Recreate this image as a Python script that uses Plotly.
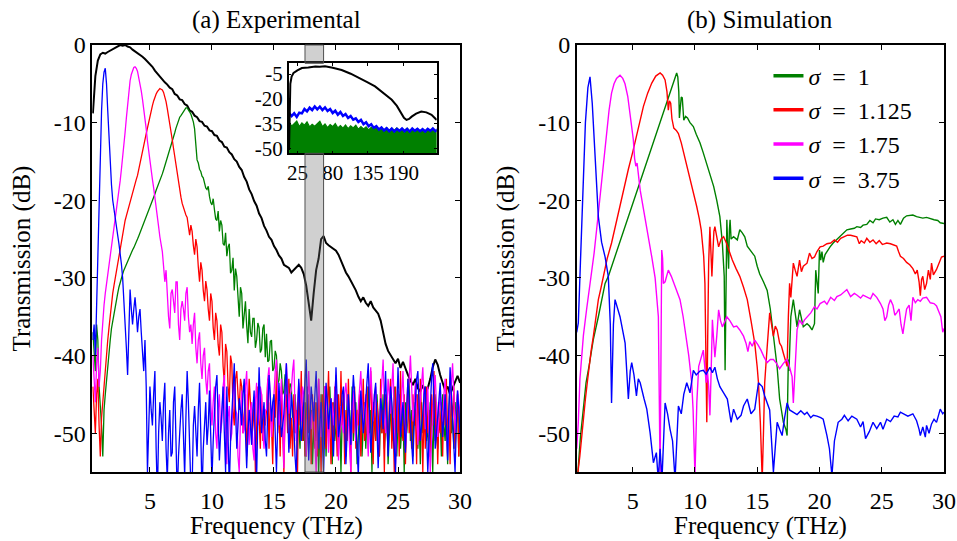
import plotly.graph_objects as go

FONT = "Liberation Serif, Times New Roman, serif"

# ---------------- (a) Experimental ----------------
# black (broadband) trace: sampled every 0.2 THz from 0.4 THz
EXP_FREQ_BLACK = [round(0.4 + 0.2 * i, 1) for i in range(150)]
EXP_BLACK = [
    -8.8, -4.0, -2.0, -1.2, -1.0, -1.1, -0.9, -0.7, -0.5, -0.4,
    -0.2, 0.0, -0.1, 0.0, -0.2, -0.3, -0.6, -0.8, -1.0, -1.2,
    -1.5, -1.8, -2.1, -2.4, -2.8, -3.3, -3.7, -4.1, -4.4, -4.8,
    -5.1, -5.5, -5.7, -6.3, -6.5, -7.0, -7.1, -7.6, -7.8, -8.4,
    -8.6, -9.1, -9.3, -9.8, -9.9, -10.4, -10.5, -11.0, -11.1, -11.6,
    -11.7, -12.3, -12.5, -13.1, -13.2, -13.8, -14.1, -14.7, -15.0, -15.7,
    -16.1, -17.0, -17.6, -18.6, -19.2, -20.1, -20.7, -21.7, -22.3, -23.3,
    -23.9, -24.7, -25.1, -25.9, -26.4, -27.1, -27.5, -28.3, -28.5, -28.7,
    -29.3, -29.0, -28.6, -28.3, -28.7, -29.5, -31.0, -33.5, -35.5, -32.0,
    -29.0, -27.5, -25.0, -24.6, -25.5, -25.8, -26.0, -26.3, -26.5, -27.0,
    -27.8, -28.5, -29.3, -29.8, -30.4, -30.8, -31.6, -32.4, -33.0, -32.5,
    -33.2, -33.6, -33.0, -33.8, -34.2, -34.6, -35.5, -37.0, -38.5, -39.4,
    -40.0, -40.6, -41.0, -40.4, -41.6, -40.8, -41.8, -42.5, -43.2, -43.8,
    -43.0, -44.2, -44.6, -43.8, -44.8, -44.2, -43.0, -41.5, -40.5, -41.2,
    -42.5, -43.6, -44.5, -44.0, -45.0, -44.2, -43.4, -42.6, -43.5, -43.0,
]

# filtered traces: sampled every 0.1 THz from 0.4 THz
EXP_FREQ = [round(0.4 + 0.1 * i, 1) for i in range(300)]

EXP_GREEN = [
    -37, -39, -42, -36, -38, -44, -46, -49, -53, -47, -45, -43, -41, -39.5, -38, -36.5, -35.5, -34.5, -33.5, -33,
    -32, -31.2, -30.5, -30, -29.5, -29, -28.6, -28.3, -28, -27.6, -27.2, -26.8, -26.4, -26.1, -25.8, -25.4, -25, -24.6, -24.2, -23.8,
    -23.4, -22.9, -22.5, -22.1, -21.7, -21.2, -20.8, -20.4, -20, -19.6, -19.2, -18.7, -18.3, -18, -17.6, -17.1, -16.6, -16.1, -15.6, -15.1,
    -14.6, -14.1, -13.5, -13, -12.4, -11.8, -11.3, -10.7, -10.2, -9.7, -9.3, -9.1, -8.8, -8.5, -8.3, -8.1, -8.1, -8.3, -8.6, -8.9,
    -9.3, -9.9, -10.8, -13, -14.8, -15.2, -16, -16.3, -16.9, -17.1, -17.8, -18.4, -18.6, -18.2, -19.5, -20.3, -20.6, -19.8, -21.2, -22.4,
    -22.6, -21.4, -24, -22.6, -23.2, -25.6, -25.8, -24.2, -27.2, -26, -25.6, -29.4, -29, -27.4, -31.6, -28.8, -29.8, -33.4, -35, -31.2,
    -32, -36.5, -34.4, -33, -36.2, -38.4, -34, -37, -37.6, -35.2, -35.2, -39, -38, -35.8, -36.4, -39.6, -39.2, -36.5, -36, -40.2,
    -37.2, -40.8, -40.6, -38.2, -38, -42, -41.6, -39.4, -40, -43.6, -43.2, -41, -42, -45, -44.6, -42.4, -43, -46.6, -46.2, -43.6,
    -44, -48, -47, -45, -50, -46, -49, -52, -45, -47, -51, -46, -53, -48, -45, -50, -47, -54, -49, -46,
    -51, -47, -55, -48, -45, -52, -49, -46, -53, -47, -50, -44, -48, -54, -46, -51, -49, -45, -52, -47,
    -55, -48, -46, -50, -53, -45, -49, -47, -52, -44, -51, -48, -46, -54, -50, -47, -45, -53, -49, -46,
    -52, -48, -44, -50, -47, -55, -46, -49, -51, -45, -48, -53, -47, -50, -45, -52, -48, -46, -54, -49,
    -46, -51, -47, -44, -50, -53, -48, -45, -52, -49, -47, -55, -46, -50, -48, -43, -51, -47, -53, -46,
    -49, -45, -52, -48, -54, -46, -50, -47, -44, -51, -49, -53, -46, -48, -55, -47, -45, -50, -52, -46,
    -48, -53, -45, -49, -51, -46, -54, -47, -44, -50, -48, -52, -46, -49, -45, -53, -47, -50, -46, -48,
]

EXP_RED = [
    -44, -47, -50, -45, -43, -49, -53, -48, -46, -43, -41, -39.5, -38, -36.4, -34.8, -33.4, -32, -31, -30, -29,
    -28, -27, -26, -25, -24.2, -23.4, -22.6, -22, -21.4, -20.6, -20, -19.5, -19, -18.4, -17.8, -17.3, -16.8, -16.1, -15.4, -14.6,
    -13.8, -13, -12.2, -11.4, -10.6, -9.9, -9.2, -8.5, -7.8, -7.2, -6.6, -6.3, -6.0, -5.8, -5.6, -5.7, -5.8, -6.1, -6.6, -7.3,
    -8.2, -9.1, -10.1, -11.2, -12.2, -13.3, -14.4, -15.4, -16.5, -17.8, -19, -19.6, -20.4, -21, -21.5, -21.9, -22.2, -23.4, -24.5, -23.2,
    -24, -25.8, -27, -25, -26, -28.6, -30.5, -28, -29, -31.6, -33, -30.4, -31.5, -34, -35.5, -32, -33, -36.4, -38, -34.5,
    -35.5, -38.6, -40, -36, -37, -41.4, -43.5, -38.5, -39.5, -44, -46, -40, -41, -47, -49, -43, -42, -45, -47, -43,
    -44, -50, -47, -45, -53, -48, -43, -46, -51, -49, -46, -55, -50, -44, -48, -52, -45, -51, -47, -49,
    -47, -43, -52, -46, -49, -54, -45, -48, -42, -50, -46, -53, -44, -49, -55, -47, -45, -50, -43, -52,
    -48, -53, -45, -50, -47, -55, -44, -49, -42, -51, -46, -53, -48, -44, -50, -47, -54, -45, -49, -52,
    -46, -53, -43, -48, -55, -45, -50, -44, -52, -47, -42, -49, -54, -46, -51, -44, -48, -53, -45, -50,
    -42, -49, -45, -54, -47, -51, -43, -48, -55, -46, -50, -44, -52, -47, -49, -45, -53, -48, -43, -51,
    -50, -44, -52, -47, -42, -49, -54, -45, -51, -46, -48, -53, -43, -50, -47, -55, -45, -49, -52, -46,
    -43, -52, -48, -55, -44, -50, -46, -53, -42, -49, -51, -45, -54, -47, -43, -50, -48, -52, -45, -49,
    -47, -54, -45, -51, -43, -48, -55, -46, -52, -44, -50, -47, -53, -45, -49, -42, -51, -46, -54, -48,
    -50, -46, -53, -45, -49, -43, -51, -47, -54, -46, -48, -44, -52, -49, -45, -53, -47, -50, -43, -48,
]

EXP_MAGENTA = [
    -40, -43, -46, -41, -39, -44, -42, -38, -35, -33.5, -32, -30.8, -29.5, -28.2, -27, -26, -25, -24, -22.8, -21.5,
    -20, -18.8, -17.5, -16, -14.6, -13, -11.2, -9.4, -7.6, -6, -4.6, -3.8, -3.2, -2.9, -2.8, -3, -3.4, -4.1, -4.9, -5.9,
    -7, -8.1, -9.2, -10.8, -12.4, -13.8, -15.2, -16.2, -17.3, -18.4, -19.5, -20.8, -22, -23.4, -24.7, -25.6, -26.6, -28.5, -30.5, -29,
    -33, -35, -36.5, -32, -31.5, -33, -34.5, -30.5, -30.5, -36, -38, -34, -33, -34, -35.5, -32, -31.2, -35, -37, -36,
    -38.5, -36, -34.5, -39, -41, -38, -37, -41, -43, -40, -39, -43, -45, -42, -41, -46, -49, -46, -44, -50,
    -52, -47, -45, -50, -48.5, -44, -42.5, -49, -54, -48, -46.5, -51, -50, -45, -43, -47, -47.5, -53, -55, -48,
    -44.5, -50, -49.5, -44, -42, -48, -51.5, -47, -46, -52, -53.5, -46, -43.5, -49, -48, -44, -45, -50, -52, -47,
    -47, -43, -41.5, -46, -50.5, -48, -44, -42, -40.5, -45, -49, -47, -43, -48, -54.5, -46, -41, -44, -47.5, -45,
    -44.5, -42, -40.5, -47, -51, -46, -43.5, -45, -48.5, -44, -45, -50, -53, -47, -42, -46, -49.5, -47, -46, -51,
    -55, -48, -43, -46, -50.5, -49, -47, -44, -44, -49, -52.5, -47, -45.5, -47, -49, -45, -42.5, -48, -53.5, -50,
    -46.5, -49, -50, -45, -43.5, -46, -48, -52, -55, -47, -44.5, -48, -51, -49, -47, -44, -42, -46, -49.5, -47,
    -45, -49, -53, -46, -41.5, -45, -48.5, -46, -44, -48, -51.5, -49, -46.5, -43, -40.5, -46, -50, -47, -43, -45,
    -47.5, -44, -41, -48, -54, -49, -44.5, -46, -49, -45, -42, -47, -52, -49, -45.5, -42, -40, -44, -48.5, -46,
    -43.5, -47, -51.5, -48, -46, -43, -41.5, -46, -49.5, -47, -44, -50, -55, -51, -47, -44, -42.5, -46, -50.5, -48,
    -45, -47, -48.5, -45, -43, -48, -53, -49, -46.5, -43, -41, -45, -50, -47, -44.5, -46, -47.5, -50, -52, -49,
]

EXP_BLUE = [
    -38, -36, -40, -33, -26, -19, -13, -8.5, -5, -3.5, -3, -5, -8.5, -12, -15.5, -18, -20, -21.3, -22.5, -23.5,
    -24.5, -25.6, -26.8, -28.2, -30, -32.5, -35, -39, -42.5, -36, -31.5, -34, -36, -34, -32.5, -34.5, -37, -35, -34, -37,
    -40, -42, -38, -44, -55, -50, -44, -47, -49, -45, -42, -52, -58, -50, -46, -48, -51, -46, -43.5, -52,
    -56, -50, -47, -53, -52.5, -46, -44, -51, -58, -53, -49.5, -47, -45, -52, -55.5, -48, -42, -46, -50, -57,
    -57, -49, -46.5, -51, -53, -47, -43.5, -50, -58, -52, -48, -46, -51.5, -49, -44.5, -50, -56, -51, -47, -44,
    -42.5, -48, -53.5, -50, -46, -44, -50, -55, -44, -49, -57, -51, -47.5, -44, -41, -47, -52, -49, -45.5, -47,
    -49, -45, -43, -50, -54.5, -50, -47, -49, -51.5, -47, -44.5, -51, -56, -48, -41.5, -46, -50, -48, -46, -51,
    -53, -47, -42.5, -45, -48.5, -46, -45, -50, -55, -49, -43.5, -47, -50.5, -49, -47.5, -44, -41, -47, -52.5, -49,
    -45, -47, -49, -53, -55.5, -48, -43, -47, -51, -49, -46.5, -43, -40.5, -47, -53.5, -49, -44, -46, -48.5, -45,
    -42, -47, -52, -49, -46, -51, -55, -49, -43.5, -46, -49.5, -47, -45.5, -50, -53, -47, -41.5, -46, -50.5, -49,
    -47.5, -45, -44, -49, -54, -50, -45, -48, -51.5, -46, -42.5, -45, -48, -52, -55.5, -49, -44.5, -47, -50, -48,
    -46, -43, -41, -47, -52.5, -50, -47, -45, -43.5, -49, -54.5, -50, -45.5, -47, -49.5, -46, -42, -48, -53, -48,
    -44, -46, -48.5, -52, -55, -47, -41.5, -46, -50.5, -48, -46, -49, -52.5, -47, -43, -46, -49, -52, -54, -49,
    -45.5, -43, -42, -47, -51, -49, -47.5, -45, -44, -50, -55, -51, -46.5, -43, -41, -47, -52, -50, -48, -46,
    -43.5, -47, -50.5, -48, -45, -49, -53.5, -47, -41.5, -45, -48, -51, -55, -49, -44.5, -47, -50, -48, -46.5, -48,
]

# ---------------- inset (wide band) ----------------
INSET_F_BLACK = [12, 13, 14, 16, 19, 25, 32, 42, 53, 60, 68, 80, 94, 108, 120, 133, 146, 159, 172, 180,
                 187, 191, 195, 199, 203, 210, 218, 226, 234, 242]
INSET_DB_BLACK = [-51, -30, -11, -6.5, -4.4, -2.8, -1.4, -1.0, -0.4, -0.6, -0.3, -1.2, -2.6, -4.8, -7.4,
                  -9.8, -12.5, -16.3, -20.6, -24.3, -28.7, -31.5, -32.8, -32.2, -30.8, -29.0, -27.7,
                  -28.2, -29.7, -32.8]
INSET_F = [12 + 4 * i for i in range(59)]
INSET_DB_BLUE = [-28.5, -30.5, -28.8, -31, -28.4, -28.8, -26.2, -27.6, -25.4, -26.8, -24.6, -26.4, -24.8,
                 -26.8, -25.2, -27.4, -26.2, -28.6, -27.2, -29.6, -28, -30.4, -29.2, -31.6, -30.4, -32.6,
                 -31.8, -34, -32.8, -35.4, -34.2, -36.6, -35.4, -37.6, -36.6, -38.6, -37.4, -39.2, -37.8,
                 -39.6, -38, -39.8, -38.2, -39.4, -38, -39.6, -38.2, -39.8, -38, -39.4, -38.2, -39.6, -38.4,
                 -39.8, -38.2, -39.4, -38, -39.6, -38.4]
INSET_DB_GREEN = [-34, -36.5, -35, -33.5, -36.8, -34.6, -36, -34, -37, -35.4, -36.6, -34.8, -33.6, -36.8,
                  -35.2, -37.4, -35.6, -36.8, -35, -37.6, -36.2, -37.8, -35.8, -38, -36.4, -37.6, -36, -38.4,
                  -36.8, -38.2, -37, -38.8, -37.2, -38.4, -36.8, -39, -37.6, -38.8, -37.4, -39.2, -37.8, -39,
                  -37.6, -39.4, -38, -39.2, -37.8, -39.6, -38.2, -39.4, -38, -39.8, -38.4, -39.4, -38, -39.6,
                  -38.2, -39.4, -38.6]
INSET_FLOOR = -53

# ---------------- (b) Simulation ----------------
SIM_GREEN_F = [0.5, 0.6, 0.8, 1.04, 1.25, 1.5, 1.84, 2.24, 2.5, 2.78, 3.04, 3.5, 4.0, 4.5, 5.0, 5.5, 6.0, 6.5,
               7.0, 7.5, 8.0, 8.3, 8.53, 8.62, 8.7, 8.75, 8.82, 8.9, 8.98, 9.1, 9.25, 9.4, 9.6, 9.87, 10.1,
               10.4, 10.65, 10.94, 11.2, 11.5, 11.75, 12.0, 12.2, 12.35, 12.42, 12.5, 12.56, 12.63, 12.7,
               12.76, 12.82, 12.9, 13.1, 13.4, 13.6, 13.8, 14.0, 14.2, 14.5, 14.8, 15.0, 15.2, 15.5, 15.8,
               16.05, 16.3, 16.6, 16.8, 17.1, 17.3, 17.4, 17.45, 17.5, 17.55, 17.6, 17.7, 17.9, 18.05, 18.2,
               18.4, 18.6, 18.7, 19.0, 19.2, 19.4, 19.6, 19.7, 19.8, 19.9, 20.0, 20.1, 20.2, 20.3, 20.45,
               20.6, 20.85, 21.1, 21.4, 21.7, 21.95, 22.2, 22.5, 22.8, 23.0, 23.3, 23.5, 23.8, 24.05, 24.3,
               24.5, 24.8, 25.1, 25.4, 25.65, 25.9, 26.1, 26.3, 26.5, 26.75, 27.0, 27.25, 27.5, 27.8, 28.05,
               28.3, 28.6, 28.9, 29.2, 29.5, 29.7, 30.0]
SIM_GREEN_DB = [-60, -55, -50.5, -46.5, -43.5, -41.3, -37.9, -35, -33, -30.7, -29.8, -27.6, -25.2, -22.8,
                -20.4, -18.0, -15.6, -13.2, -10.8, -8.5, -6.1, -4.6, -3.6, -4.1, -6, -9.4, -7.5, -6.7, -6.8,
                -9.7, -9.2, -9.4, -10, -10.5, -11.5, -12.6, -13.8, -15.2, -16.6, -18.2, -20, -22.1, -25.5,
                -29.8, -41.9, -30, -22.5, -26, -28.8, -24, -22.5, -25, -24.7, -25.1, -23.8, -24.2, -24.7,
                -25.9, -26.6, -27.2, -28.5, -29.5, -30.5, -31.6, -34, -37.2, -41.5, -45.6, -48.6, -49.5,
                -50.3, -45, -40.5, -42, -39.3, -35, -32.8, -34.5, -36.3, -34.1, -35.5, -36.3, -35.9, -36.2,
                -36.7, -35.9, -29, -31, -32, -26.4, -27.7, -26.6, -28, -27, -26.6, -26, -25.5, -25, -24.5,
                -24.1, -23.8, -23.7, -23.6, -23.4, -23.5, -23.2, -23.1, -22.6, -22.9, -22.4, -22.5, -22.3,
                -22.2, -22.8, -22.5, -23.1, -22.6, -23.1, -22.3, -22.0, -21.9, -21.9, -22.1, -22.2, -22.3,
                -22.2, -22.4, -22.5, -22.6, -22.9, -23.0]

SIM_RED_F = [0.5, 0.6, 0.75, 0.9, 1.05, 1.2, 1.35, 1.5, 1.65, 1.84, 2.0, 2.24, 2.45, 2.64, 2.95, 3.3, 3.65,
             3.98, 4.3, 4.65, 5.0, 5.3, 5.6, 5.86, 6.2, 6.53, 6.85, 7.2, 7.4, 7.6, 7.75, 7.86, 7.95, 8.05,
             8.15, 8.3, 8.5, 8.67, 8.9, 9.1, 9.35, 9.6, 9.9, 10.14, 10.35, 10.5, 10.6, 10.7, 10.8, 10.88,
             10.95, 11.02, 11.1, 11.2, 11.3, 11.36, 11.45, 11.52, 11.6, 11.75, 11.9, 12.1, 12.3, 12.55,
             12.8, 13.0, 13.3, 13.6, 13.9, 14.2, 14.5, 14.8, 15.0, 15.1, 15.25, 15.4, 15.5, 15.6, 15.75,
             15.85, 16.0, 16.15, 16.3, 16.45, 16.6, 16.8, 16.95, 17.1, 17.25, 17.4, 17.5, 17.6, 17.7, 17.9,
             18.05, 18.2, 18.4, 18.55, 18.7, 18.85, 19.0, 19.2, 19.4, 19.6, 19.8, 20.05, 20.3, 20.6, 20.9,
             21.2, 21.45, 21.7, 22.0, 22.25, 22.5, 22.75, 23.0, 23.2, 23.35, 23.6, 23.8, 24.05, 24.3, 24.55,
             24.8, 25.05, 25.4, 25.7, 25.95, 26.2, 26.35, 26.5, 26.75, 27.0, 27.25, 27.5, 27.7, 27.85, 28.0,
             28.1, 28.2, 28.3, 28.45, 28.6, 28.75, 28.9, 29.0, 29.15, 29.4, 29.6, 29.8, 30.0]
SIM_RED_DB = [-58, -55, -53, -50.3, -48, -45.6, -43.5, -41.3, -39.5, -37.5, -35.5, -32.8, -31.3, -29.8,
              -27.5, -25.5, -23, -20.7, -18.3, -16, -13.8, -11.7, -9.6, -7.9, -6.2, -4.9, -4.0, -3.6, -3.9,
              -4.5, -6, -8.4, -7.2, -7.5, -9.5, -10.7, -11, -11.4, -12.6, -13.9, -15.4, -16.9, -19, -20.8,
              -22.4, -23.8, -25.5, -27.2, -30.7, -40, -48.6, -38, -28, -23.4, -28, -29.8, -26.4, -24, -23.4,
              -25, -26, -25, -24.7, -25.6, -26.8, -27.7, -28.8, -29.8, -31.2, -32.8, -35.5, -38.4, -41.5,
              -43.5, -48.6, -56, -50, -43.5, -40, -38, -34.5, -36, -37.5, -36.2, -36.7, -38.4, -38.8, -39.7,
              -40.5, -41.4, -35, -30.7, -32.5, -28.1, -29, -29.8, -27.7, -29.2, -28.5, -28.3, -28.1, -26.8,
              -27.5, -27.3, -26.6, -26.0, -25.9, -25.6, -25.5, -25.1, -25.4, -24.9, -24.7, -24.5, -24.5,
              -24.6, -24.7, -25.6, -25.2, -25.5, -24.9, -25.4, -25.1, -25.6, -25.2, -25.7, -25.5, -25.6,
              -25.7, -25.9, -26.6, -27.2, -27.5, -28, -28.3, -28.8, -29.5, -29, -30.5, -32.3, -30.2, -29.8,
              -31.5, -30.7, -29, -30.2, -28.1, -29.6, -28.9, -28, -27.3, -27.2]

SIM_MAGENTA_F = [0.5, 0.63, 0.76, 0.9, 1.04, 1.3, 1.57, 1.7, 1.9, 2.1, 2.3, 2.5, 2.7, 2.9, 3.1, 3.3, 3.5, 3.7,
                 3.98, 4.2, 4.38, 4.6, 4.79, 4.95, 5.05, 5.15, 5.25, 5.35, 5.45, 5.6, 5.85, 6.13, 6.35, 6.53,
                 6.8, 6.95, 7.06, 7.13, 7.2, 7.27, 7.33, 7.4, 7.46, 7.6, 7.86, 8.1, 8.4, 8.8, 9.05, 9.3, 9.5,
                 9.74, 9.85, 10.0, 10.15, 10.3, 10.5, 10.67, 10.9, 11.0, 11.1, 11.2, 11.3, 11.4, 11.5, 11.6,
                 11.75, 11.9, 12.05, 12.2, 12.4, 12.55, 12.8, 13.1, 13.35, 13.6, 13.9, 14.1, 14.25, 14.4, 14.6,
                 14.8, 15.05, 15.3, 15.55, 15.8, 16.05, 16.3, 16.55, 16.8, 17.1, 17.4, 17.6, 17.8, 17.9, 18.05,
                 18.2, 18.4, 18.6, 18.8, 19.0, 19.3, 19.6, 19.8, 20.05, 20.4, 20.6, 20.9, 21.2, 21.4, 21.7,
                 21.95, 22.2, 22.5, 22.8, 23.0, 23.3, 23.5, 23.8, 24.1, 24.3, 24.6, 24.9, 25.1, 25.25, 25.4,
                 25.55, 25.7, 25.9, 26.05, 26.2, 26.4, 26.55, 26.7, 26.85, 27.0, 27.2, 27.35, 27.5, 27.7, 27.9,
                 28.1, 28.3, 28.6, 28.9, 29.2, 29.4, 29.6, 29.75, 29.9, 30.0]
SIM_MAGENTA_DB = [-52, -48.6, -43, -40, -37.4, -34, -30.8, -29.8, -26.8, -23.8, -20.6, -17.4, -14.2, -11,
                  -8.4, -6.2, -5, -4.3, -3.9, -4.3, -5, -6.6, -8.8, -10.8, -12.2, -14.6, -15.6, -15.2, -16.5,
                  -18.7, -21, -23.4, -25.5, -27.3, -30, -33, -35, -45, -55.5, -40, -26.4, -27.5, -30.7, -30.5,
                  -29, -29.8, -31.2, -32.8, -35, -37.5, -40, -43.5, -47, -55.5, -46, -41.4, -40.3, -39.3,
                  -43.5, -42, -44, -47.7, -42, -35.4, -38, -40.2, -37.5, -34.1, -35.5, -36.3, -35.6, -35,
                  -35.5, -36.3, -36.2, -36.7, -37.5, -38.4, -39.5, -38.2, -38.8, -38, -38.6, -39.3, -40.2,
                  -40.9, -40.5, -40.5, -41, -41.7, -41, -40.5, -41.5, -42.7, -46.1, -41, -36.7, -35.4, -36,
                  -35.4, -35, -34.5, -33.7, -34, -33.3, -33, -33.4, -32.5, -32.9, -32.4, -32.2, -31.9, -31.5,
                  -32.4, -32, -32.2, -32.6, -32.2, -32.4, -32.7, -32, -32.5, -33.3, -34, -35.5, -35, -33.5,
                  -32.8, -33.5, -34.8, -34.5, -34, -36, -37.2, -35.5, -34, -33.5, -35.5, -32.5, -33.2, -32.8,
                  -33, -32.6, -32.5, -33.2, -33.3, -33.6, -34.5, -35, -37, -36.5]

SIM_BLUE_F = [0.5, 0.63, 0.8, 1.0, 1.2, 1.4, 1.57, 1.75, 1.98, 2.24, 2.5, 2.78, 3.04, 3.2, 3.3, 3.45, 3.58,
              3.98, 4.39, 4.5, 4.65, 4.8, 4.92, 5.1, 5.3, 5.45, 5.6, 5.9, 6.13, 6.4, 6.66, 6.9, 7.05, 7.2,
              7.35, 7.6, 7.8, 8.0, 8.2, 8.4, 8.67, 8.9, 9.1, 9.34, 9.6, 9.87, 10.1, 10.4, 10.67, 10.9, 11.2,
              11.4, 11.6, 11.8, 12.0, 12.3, 12.6, 12.9, 13.1, 13.4, 13.7, 13.9, 14.2, 14.5, 14.8, 15.1, 15.4,
              15.6, 15.8, 16.0, 16.3, 16.6, 16.8, 17.0, 17.2, 17.4, 17.6, 17.9, 18.2, 18.5, 18.8, 19.0, 19.3,
              19.5, 19.8, 20.1, 20.3, 20.6, 20.8, 21.0, 21.2, 21.5, 21.8, 22.0, 22.3, 22.6, 23.0, 23.3, 23.5,
              23.7, 24.0, 24.3, 24.6, 24.9, 25.1, 25.4, 25.7, 26.0, 26.3, 26.5, 26.8, 27.1, 27.5, 27.8, 28.0,
              28.1, 28.3, 28.5, 28.6, 28.8, 29.0, 29.2, 29.4, 29.7, 29.9, 30.0]
SIM_BLUE_DB = [-37, -35.8, -28, -18, -10, -5.5, -4.1, -7.5, -15.2, -22.1, -25.4, -27.3, -29.8, -36, -46.1,
               -36, -32.8, -35, -38.4, -41, -45.6, -42, -40.9, -42.5, -45.2, -43, -43.5, -45.5, -46.9, -50,
               -53.8, -52.5, -56, -52, -56, -46.1, -47.5, -49.5, -51, -56, -46.5, -47.5, -45, -43.5, -44.8,
               -41.9, -42.5, -42, -41.9, -42.4, -41.5, -42.2, -41.5, -43, -44.0, -44.8, -45.6, -48.6, -46.9,
               -48.2, -47.7, -46.5, -45.6, -47.5, -46.9, -43.5, -44, -45.2, -46.1, -47, -55, -48.6, -49.5,
               -50.3, -48, -46.1, -47, -47.3, -47.6, -47.1, -47.6, -47.3, -48, -47.7, -47.8, -48, -48.2,
               -50.3, -52, -55.5, -51, -48.6, -48.2, -47.7, -48.4, -47.8, -48.2, -49.2, -48.5, -50.7, -49.8,
               -48.6, -49.4, -48.6, -49.5, -48.2, -48.5, -47.8, -47.9, -47.3, -47.5, -47.8, -47.5, -48.4,
               -49.5, -50.3, -49.2, -50.5, -49, -50, -48.8, -48.2, -48.6, -46.9, -47.5, -47.3]

GREEN, RED, MAGENTA, BLUE = "#008000", "#ff0000", "#ff00ff", "#0000ff"
SIGMA_LABELS = ["1", "1.125", "1.75", "3.75"]

# ---------------- layout geometry (paper fractions) ----------------
XD1 = [0.0964, 0.4807]
XD2 = [0.6026, 0.9864]
YD = [0.1275, 0.9168]
INSET_XD = [0.3017, 0.4563]
INSET_YD = [0.7166, 0.883]
BAND = [17.5, 19.0]

fig = go.Figure()


def add_line(x, y, color, width, xa="x", ya="y"):
    n = min(len(x), len(y))
    fig.add_trace(go.Scatter(x=x[:n], y=y[:n], mode="lines", showlegend=False,
                             line=dict(color=color, width=width), xaxis=xa, yaxis=ya,
                             hoverinfo="skip"))


add_line(EXP_FREQ_BLACK, EXP_BLACK, "black", 2)
add_line(EXP_FREQ, EXP_GREEN, GREEN, 1.3)
add_line(EXP_FREQ, EXP_RED, RED, 1.3)
add_line(EXP_FREQ, EXP_MAGENTA, MAGENTA, 1.3)
add_line(EXP_FREQ, EXP_BLUE, BLUE, 1.3)

# inset
fig.add_trace(go.Scatter(x=INSET_F, y=[INSET_FLOOR] * len(INSET_F), mode="lines",
                         line=dict(color=GREEN, width=0), showlegend=False, xaxis="x3", yaxis="y3"))
fig.add_trace(go.Scatter(x=INSET_F, y=INSET_DB_GREEN, mode="lines", fill="tonexty",
                         fillcolor=GREEN, line=dict(color=GREEN, width=1.2), showlegend=False,
                         xaxis="x3", yaxis="y3"))
add_line(INSET_F, INSET_DB_BLUE, BLUE, 2.5, "x3", "y3")
add_line(INSET_F_BLACK, INSET_DB_BLACK, "black", 2, "x3", "y3")

# simulation
for f, d, c in [(SIM_GREEN_F, SIM_GREEN_DB, GREEN), (SIM_RED_F, SIM_RED_DB, RED),
                (SIM_MAGENTA_F, SIM_MAGENTA_DB, MAGENTA), (SIM_BLUE_F, SIM_BLUE_DB, BLUE)]:
    add_line(f, d, c, 1.4, "x2", "y2")
for lab, c in zip(SIGMA_LABELS, [GREEN, RED, MAGENTA, BLUE]):
    fig.add_trace(go.Scatter(x=[None], y=[None], mode="lines", line=dict(color=c, width=3.5),
                             name="<i>σ</i>\u2002=\u2002" + lab, xaxis="x2", yaxis="y2"))

axis_common = dict(showgrid=False, zeroline=False, showline=True, linecolor="black", linewidth=1.5,
                   mirror="ticks", ticks="inside", ticklen=5, tickwidth=1, tickcolor="black",
                   tickfont=dict(family=FONT, size=24, color="black"), automargin=False)
inset_axis = {**axis_common, "ticklen": 3, "tickfont": dict(family=FONT, size=21, color="black")}
MAIN_Y_TICKS = [0, -10, -20, -30, -40, -50]
MAIN_X_TICKS = [5, 10, 15, 20, 25, 30]
INSET_Y_TICKS = [-5, -20, -35, -50]
INSET_X_TICKS = [25, 80, 135, 190]

fig.update_layout(
    width=957, height=541, margin=dict(l=0, r=0, t=0, b=0),
    paper_bgcolor="white", plot_bgcolor="white",
    font=dict(family=FONT, color="black"),
    xaxis=dict(domain=XD1, range=[0.35, 30], anchor="y", tickvals=MAIN_X_TICKS,
               ticklabelstandoff=6, **axis_common),
    yaxis=dict(domain=YD, range=[-55, 0], anchor="x", tickvals=MAIN_Y_TICKS,
               ticktext=[str(v) for v in MAIN_Y_TICKS], **axis_common),
    xaxis2=dict(domain=XD2, range=[0.5, 30], anchor="y2", tickvals=MAIN_X_TICKS,
                ticklabelstandoff=6, **axis_common),
    yaxis2=dict(domain=YD, range=[-55, 0], anchor="x2", tickvals=MAIN_Y_TICKS,
                ticktext=[str(v) for v in MAIN_Y_TICKS], **axis_common),
    xaxis3=dict(domain=INSET_XD, range=[11.5, 242], anchor="y3", tickvals=INSET_X_TICKS, **inset_axis),
    yaxis3=dict(domain=INSET_YD, range=[-53, 1.5], anchor="x3", tickvals=INSET_Y_TICKS,
                ticktext=[str(v) for v in INSET_Y_TICKS], **inset_axis),
    legend=dict(x=0.803, y=0.901, xanchor="left", yanchor="top", bgcolor="rgba(0,0,0,0)",
                traceorder="normal", font=dict(family=FONT, size=24, color="black"), borderwidth=0),
)

# shaded band (split around the inset)
for y0, y1 in [(YD[0], INSET_YD[0]), (INSET_YD[1], YD[1])]:
    fig.add_shape(type="rect", xref="x", yref="paper", x0=BAND[0], x1=BAND[1], y0=y0, y1=y1,
                  fillcolor="rgba(110,110,110,0.32)", line=dict(color="rgb(80,80,80)", width=1),
                  layer="above")

ann = dict(showarrow=False, font=dict(family=FONT, size=25, color="black"))
fig.add_annotation(text="(a) Experimental", x=sum(XD1) / 2, y=0.963, xref="paper", yref="paper",
                   xanchor="center", yanchor="middle", **ann)
fig.add_annotation(text="(b) Simulation", x=sum(XD2) / 2, y=0.963, xref="paper", yref="paper",
                   xanchor="center", yanchor="middle", **ann)
for xd in (XD1, XD2):
    fig.add_annotation(text="Frequency (THz)", x=sum(xd) / 2, y=1 - 526 / 541, xref="paper",
                       yref="paper", xanchor="center", yanchor="middle", **ann)
fig.add_annotation(text="Transmission (dB)", x=22 / 957, y=sum(YD) / 2, xref="paper", yref="paper",
                   xanchor="center", yanchor="middle", textangle=-90, **ann)
fig.add_annotation(text="Transmission (dB)", x=506 / 957, y=sum(YD) / 2, xref="paper", yref="paper",
                   xanchor="center", yanchor="middle", textangle=-90, **ann)

fig.write_html("out.html", config={"displayModeBar": False},
               post_script="document.body.style.margin='0px';")
